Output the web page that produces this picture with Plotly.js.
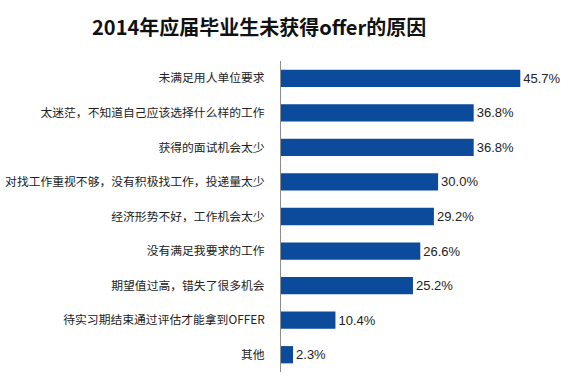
<!DOCTYPE html>
<html><head><meta charset="utf-8">
<script src="https://cdn.plot.ly/plotly-3.0.1.min.js"></script>
<style>html,body{margin:0;padding:0;background:#fff}#c{width:572px;height:384px}</style>
</head><body><div id="c"></div>
<script>
const categories = ["未满足用人单位要求","太迷茫，不知道自己应该选择什么样的工作","获得的面试机会太少","对找工作重视不够，没有积极找工作，投递量太少","经济形势不好，工作机会太少","没有满足我要求的工作","期望值过高，错失了很多机会","待实习期结束通过评估才能拿到OFFER","其他"];
const values = [45.7,36.8,36.8,30.0,29.2,26.6,25.2,10.4,2.3];
const labels = values.map(v => v.toFixed(1) + "%");

Plotly.newPlot("c", [{
  type: "bar", orientation: "h",
  x: values, y: categories,
  text: labels, textposition: "outside", cliponaxis: false,
  textfont: {family: "Liberation Sans, Noto Sans, sans-serif", size: 13, color: "#222"},
  marker: {color: "#0c4a9b"},
  hoverinfo: "none"
}], {
  width: 572, height: 384,
  margin: {l: 281, r: 3, t: 61, b: 12},
  paper_bgcolor: "#fff", plot_bgcolor: "#fff",
  bargap: 0.5,
  title: {text: "<b>2014年应届毕业生未获得offer的原因</b>", x: 0.453, xanchor: "center", y: 0.927, yanchor: "middle",
    font: {family: "Noto Sans CJK SC, sans-serif", size: 20, color: "#111"}},
  xaxis: {range: [0, 55], showgrid: false, zeroline: false, showticklabels: false, ticks: "", showline: false, fixedrange: true},
  yaxis: {autorange: "reversed", showgrid: false, zeroline: false, showline: true, linecolor: "#8c8c8c", linewidth: 1,
    ticks: "", ticklabelstandoff: 13,
    tickfont: {family: "Noto Sans CJK SC, sans-serif", size: 11.8, color: "#222"}},
  showlegend: false
}, {displayModeBar: false, staticPlot: true});
</script></body></html>
